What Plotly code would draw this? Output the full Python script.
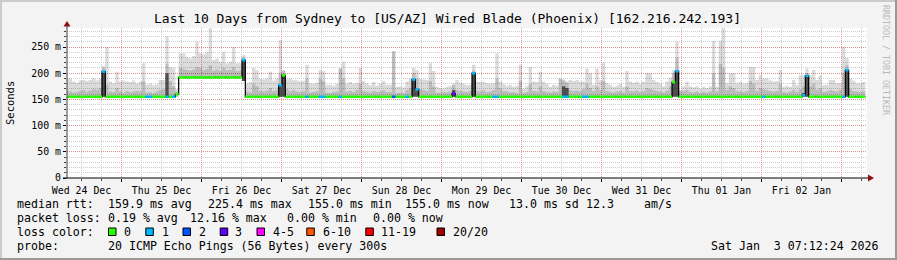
import plotly.graph_objects as go
from datetime import datetime, timedelta

# ---------------- data (hourly bins) ----------------
T_START = datetime(2025, 12, 24, 7, 39)

smoke_top = [
    190,190,184,182,186,187,185,187,190,186,190,214,250,184,181,203,184,186,184,183,186,181,184,219,
    178,180,177,179,187,187,270,212,210,170,238,238,231,228,233,260,238,236,240,286,225,228,222,241,
    219,222,250,219,219,235,181,183,210,205,190,188,190,203,186,190,263,205,188,190,187,186,184,185,
    216,181,180,182,206,204,177,178,176,180,209,222,181,183,180,182,210,185,180,177,183,176,180,185,
    178,178,242,174,175,173,184,190,210,205,190,188,187,219,204,174,172,171,174,176,180,187,182,180,
    177,178,216,184,183,184,181,180,181,238,184,180,176,178,174,176,216,171,176,212,184,183,203,184,
    180,174,178,176,190,186,184,187,185,187,184,184,209,200,178,209,186,220,181,178,174,176,180,174,
    204,184,182,184,180,184,200,200,187,183,180,175,184,192,205,260,168,175,184,175,173,175,171,174,
    172,175,262,174,262,286,181,200,200,181,183,180,181,212,212,187,196,190,190,186,184,185,206,174,
    176,174,187,177,196,196,209,196,206,187,196,177,178,187,187,181,181,250,229,190,186,181,181,183,
]

smoke_mid = [
    166,165,163,164,166,168,165,167,170,168,172,210,178,165,164,172,165,163,166,164,165,166,165,185,
    163,164,162,165,168,170,218,185,175,165,210,208,206,205,207,212,210,206,208,215,205,207,204,210,
    205,206,212,204,205,230,165,163,180,175,166,165,167,172,166,168,200,205,170,166,168,165,164,166,
    190,163,164,165,190,185,163,162,164,165,209,190,165,166,164,168,180,166,165,163,166,164,165,167,
    164,164,242,162,163,162,168,172,200,190,170,168,166,185,175,163,162,164,163,165,178,168,166,165,
    164,166,205,166,165,167,164,165,168,190,172,166,165,163,164,162,185,162,164,180,166,165,175,166,
    164,163,165,164,190,188,182,168,166,167,165,170,180,172,166,175,168,185,166,164,163,165,166,163,
    175,166,165,167,164,166,172,170,168,166,165,163,167,175,200,230,165,166,168,164,163,165,162,164,
    163,165,200,165,218,210,168,175,172,166,165,164,166,185,180,166,172,170,168,166,165,166,180,164,
    163,165,168,164,170,175,200,175,180,168,172,164,165,168,166,165,168,200,215,170,166,165,164,166,
]

# top of the darkest smoke band (0 = none)
smoke_dark = [
    0,0,0,0,0,0,0,0,0,0,0,203,0,0,0,0,0,0,0,0,0,0,0,0,
    0,0,0,0,0,0,200,0,0,0,0,0,0,0,0,0,0,0,0,0,0,0,0,0,
    0,0,0,0,0,225,0,0,0,0,0,0,0,0,0,0,177,196,0,0,0,0,0,0,
    0,0,0,0,0,0,0,0,0,0,0,0,0,0,0,0,0,0,0,0,0,0,0,0,
    0,0,0,0,0,0,0,0,188,169,0,0,0,0,0,0,0,0,0,0,168,0,0,0,
    0,0,200,0,0,0,0,0,0,0,0,0,0,0,0,0,0,0,0,0,0,0,0,0,
    0,0,0,0,0,175,172,0,0,0,0,0,0,0,0,0,0,0,0,0,0,0,0,0,
    0,0,0,0,0,0,0,0,0,0,0,0,0,0,183,204,0,0,0,0,0,0,0,0,
    0,0,0,0,0,0,0,0,0,0,0,0,0,0,0,0,0,0,0,0,0,0,0,0,
    0,0,0,0,0,162,195,0,0,0,0,0,0,0,0,0,0,0,206,0,0,0,0,0,
]

smoke_lo = [
    155,155,155,155,155,155,155,155,155,155,155,155,155,155,155,155,155,155,155,155,155,155,155,155,
    155,155,155,155,155,155,155,155,155,155,190,190,190,190,190,190,190,190,190,190,190,190,190,190,
    190,190,190,190,190,185,155,155,155,155,155,155,155,155,155,155,155,155,155,155,155,155,155,155,
    155,155,155,155,155,155,155,155,155,155,155,155,155,155,155,155,155,155,155,155,155,155,155,155,
    155,155,155,155,155,155,155,155,155,155,155,155,155,155,155,155,155,155,155,155,155,155,155,155,
    155,155,155,155,155,155,155,155,155,155,155,155,155,155,155,155,155,155,155,155,155,155,155,155,
    155,155,155,155,155,155,155,155,155,155,155,155,155,155,155,155,155,155,155,155,155,155,155,155,
    155,155,155,155,155,155,155,155,155,155,155,155,155,155,155,155,155,155,155,155,155,155,155,155,
    155,155,155,155,155,155,155,155,155,155,155,155,155,155,155,155,155,155,155,155,155,155,155,155,
    155,155,155,155,155,155,155,155,155,155,155,155,155,155,155,155,155,155,155,155,155,155,155,155,
]

median = [
    155,155,155,155,155,155,155,155,155,155,155,203,155,155,155,155,155,155,155,155,155,155,155,155,
    155,155,155,155,155,155,155,155,155,160,192,192,192,192,192,192,192,192,192,192,192,192,192,192,
    192,192,192,192,192,225,155,155,155,155,155,155,155,155,155,155,177,196,155,155,155,155,155,155,
    155,155,155,155,155,155,155,155,155,155,155,155,155,155,155,155,155,155,155,155,155,155,155,155,
    155,155,155,155,155,155,155,155,188,169,155,155,155,155,155,155,155,155,155,155,161,155,155,155,
    155,155,200,155,155,155,155,155,155,155,155,155,155,155,155,155,155,155,155,155,155,155,155,155,
    155,155,155,155,155,155,155,155,155,155,155,155,155,155,155,155,155,155,155,155,155,155,155,155,
    155,155,155,155,155,155,155,155,155,155,155,155,155,155,183,204,155,155,155,155,155,155,155,155,
    155,155,155,155,155,155,155,155,155,155,155,155,155,155,155,155,155,155,155,155,155,155,155,155,
    155,155,155,155,155,158,195,155,155,155,155,155,155,155,155,155,155,155,206,155,155,155,155,155,
]

# lost pings (of 20) per bin
loss = [
    0,0,0,0,0,0,0,0,0,0,0,1,0,0,0,0,0,0,0,0,0,0,0,0,
    1,1,0,0,0,0,1,0,1,0,0,0,0,0,0,0,0,0,0,0,0,0,0,0,
    0,0,0,0,0,1,0,0,0,0,0,0,0,0,0,0,1,0,0,0,0,0,0,0,
    1,0,0,0,1,1,0,0,0,0,1,0,0,0,0,0,0,0,0,0,0,0,0,0,
    0,0,2,0,0,0,1,0,1,1,0,0,0,0,0,0,0,0,0,0,3,0,0,0,
    0,0,1,0,0,0,0,0,1,1,0,0,0,0,0,0,0,0,0,0,0,0,0,0,
    0,0,0,0,0,1,1,0,0,0,0,1,1,0,0,0,0,0,0,0,0,0,0,0,
    0,0,0,0,0,0,0,0,0,0,0,0,0,0,0,1,0,0,0,0,0,0,0,0,
    0,0,0,0,0,0,0,0,0,0,0,0,0,0,0,0,0,1,0,0,0,0,0,0,
    0,0,0,0,0,1,1,0,0,0,0,0,0,0,0,0,0,1,1,0,0,0,0,0,
]

y_tickvals = [0, 50, 100, 150, 200, 250]
y_ticktext = ["0", "50 m", "100 m", "150 m", "200 m", "250 m"]

loss_legend = [("0", "#26ff00"), ("1", "#00b8ff"), ("2", "#0059ff"), ("3", "#5e00ff"),
               ("4-5", "#ff00ff"), ("6-10", "#ff5500"), ("11-19", "#ff0000"), ("20/20", "#a10000")]

title_text = "Last 10 Days from Sydney to [US/AZ] Wired Blade (Phoenix) [162.216.242.193]"

# ---------------- geometry helpers (layout decoration only) ----------------
W, H = 897, 260
L, R, T, B = 67, 867, 28, 178
def px(x):
    return (x - L) / (R - L)
def py(y):
    return (B - y) / (B - T)

n = len(median)
edges = [T_START + timedelta(hours=h - 0.5) for h in range(n + 1)]
x_range = [T_START, T_START + timedelta(hours=n)]

def step(vals):
    return list(vals) + [vals[-1]]

def loss_color(c):
    if c <= 0: return loss_legend[0][1]
    if c == 1: return loss_legend[1][1]
    if c == 2: return loss_legend[2][1]
    if c == 3: return loss_legend[3][1]
    if c <= 5: return loss_legend[4][1]
    if c <= 10: return loss_legend[5][1]
    if c <= 19: return loss_legend[6][1]
    return loss_legend[7][1]

fig = go.Figure()

def band(lo, hi, color):
    fig.add_trace(go.Scatter(x=edges, y=step(lo), mode="lines", line=dict(width=0, shape="hv"),
                             hoverinfo="skip", showlegend=False))
    fig.add_trace(go.Scatter(x=edges, y=step(hi), mode="lines", line=dict(width=0, shape="hv"),
                             fill="tonexty", fillcolor=color, hoverinfo="skip", showlegend=False))

dark_top = [d if d > 0 else lo for d, lo in zip(smoke_dark, smoke_lo)]
band(smoke_lo, smoke_top, "rgba(0,0,0,0.14)")
band(smoke_lo, smoke_mid, "rgba(0,0,0,0.14)")
band(smoke_lo, dark_top, "rgba(0,0,0,0.58)")

# black median line
fig.add_trace(go.Scatter(x=edges, y=step(median), mode="lines",
                         line=dict(color="black", width=1.2, shape="hv"),
                         hoverinfo="skip", showlegend=False))

# loss coloured median segments
groups = {}
for i in range(n):
    c = loss_color(loss[i])
    g = groups.setdefault(c, ([], []))
    g[0].extend([edges[i], edges[i + 1], None])
    g[1].extend([median[i], median[i], None])
for c, (gx, gy) in groups.items():
    fig.add_trace(go.Scatter(x=gx, y=gy, mode="lines", line=dict(color=c, width=2.6),
                             hoverinfo="skip", showlegend=False))

MONO = "DejaVu Sans Mono"
grid_red = "rgba(222,120,120,0.75)"
grid_gray = "#cdcdcd"
dots = "1px,1px"

fig.update_xaxes(
    type="date", range=x_range, showline=False, zeroline=False,
    tick0="2025-12-24", dtick=86400000, tickformat="%a %d %b", ticklabelmode="period",
    showgrid=True, gridcolor=grid_red, griddash=dots, gridwidth=1,
    ticks="outside", ticklen=3, tickcolor="black",
    tickfont=dict(family=MONO, size=9.9, color="black"),
    minor=dict(tick0="2025-12-24", dtick=21600000, showgrid=True, gridcolor=grid_gray,
               griddash=dots, ticks="outside", ticklen=2, tickcolor="#444"),
    fixedrange=True,
)
fig.update_yaxes(
    range=[0, 286.3], showline=False, zeroline=False,
    tickvals=y_tickvals, ticktext=y_ticktext,
    showgrid=True, gridcolor=grid_red, griddash=dots, gridwidth=1,
    ticks="outside", ticklen=3, tickcolor="black",
    tickfont=dict(family=MONO, size=9.9, color="black"),
    minor=dict(dtick=10, showgrid=True, gridcolor=grid_gray, griddash=dots,
               ticks="outside", ticklen=2, tickcolor="#444"),
    fixedrange=True,
)

shapes = []
# outer 3D frame
shapes.append(dict(type="rect", xref="paper", yref="paper", x0=px(0), x1=px(W), y0=py(0), y1=py(2),
                   fillcolor="#cbcbcb", line=dict(width=0)))
shapes.append(dict(type="rect", xref="paper", yref="paper", x0=px(0), x1=px(2), y0=py(0), y1=py(H),
                   fillcolor="#cbcbcb", line=dict(width=0)))
shapes.append(dict(type="rect", xref="paper", yref="paper", x0=px(0), x1=px(W), y0=py(H - 2), y1=py(H),
                   fillcolor="#999999", line=dict(width=0)))
shapes.append(dict(type="rect", xref="paper", yref="paper", x0=px(W - 2), x1=px(W), y0=py(0), y1=py(H),
                   fillcolor="#999999", line=dict(width=0)))
# axes lines with arrows
shapes.append(dict(type="line", xref="paper", yref="paper", x0=px(67), x1=px(67), y0=py(178.5), y1=py(25),
                   line=dict(color="#404040", width=1)))
shapes.append(dict(type="line", xref="paper", yref="paper", x0=px(63), x1=px(869), y0=py(178), y1=py(178),
                   line=dict(color="black", width=1)))
shapes.append(dict(type="path", xref="paper", yref="paper",
                   path=f"M {px(63.5)} {py(26.5)} L {px(67)} {py(21)} L {px(70.5)} {py(26.5)} Z",
                   fillcolor="#8b1010", line=dict(width=0)))
shapes.append(dict(type="path", xref="paper", yref="paper",
                   path=f"M {px(868)} {py(174.5)} L {px(874)} {py(178)} L {px(868)} {py(181.5)} Z",
                   fillcolor="#8b1010", line=dict(width=0)))

ann = []
def text(x, y, s, size=11.6, anchor="left", color="black", angle=0):
    ann.append(dict(x=px(x), y=py(y), xref="paper", yref="paper", text=s.replace(" ", "\u00a0"),
                    showarrow=False, xanchor=anchor, yanchor="middle", textangle=angle,
                    font=dict(family=MONO, size=size, color=color), borderpad=0))

text(447, 19, title_text, size=13, anchor="center")
text(10, 103, "Seconds", size=10.5, anchor="center", angle=-90)
text(886, 60, "RRDTOOL / TOBI OETIKER", size=8.3, anchor="center", color="#b8b8b8", angle=90)

text(16, 204, "median rtt:")
text(107, 204, "159.9 ms avg")
text(207, 204, "225.4 ms max")
text(307, 204, "155.0 ms min")
text(404, 204, "155.0 ms now")
text(508, 204, "13.0 ms sd")
text(585, 204, "12.3")
text(642.5, 204, "am/s")

text(16, 218, "packet loss:")
text(107, 218, "0.19 % avg")
text(189, 218, "12.16 % max")
text(286, 218, "0.00 % min")
text(372, 218, "0.00 % now")

text(16, 232, "loss color:")
sq_x = [108.5, 145.8, 183, 220.2, 257, 306.8, 365.8, 437]
lab_x = [123.3, 160.7, 197.7, 234.3, 271.7, 321.7, 380, 452]
for (lab, col), sx, lx in zip(loss_legend, sq_x, lab_x):
    shapes.append(dict(type="rect", xref="paper", yref="paper", x0=px(sx), x1=px(sx + 7.5),
                       y0=py(228), y1=py(235.5), fillcolor=col, line=dict(color="black", width=1)))
    text(lx, 232, lab)

text(16, 246, "probe:")
text(107, 246, "20 ICMP Echo Pings (56 Bytes) every 300s")
text(880, 246, "Sat Jan  3 07:12:24 2026", anchor="right")

fig.update_layout(
    width=W, height=H, autosize=False,
    margin=dict(l=L, r=W - R, t=T, b=H - B, pad=0),
    paper_bgcolor="#f3f3f3", plot_bgcolor="white",
    showlegend=False, shapes=shapes, annotations=ann,
    font=dict(family=MONO, color="black"),
)

fig.write_html("out.html", config={"displayModeBar": False})
